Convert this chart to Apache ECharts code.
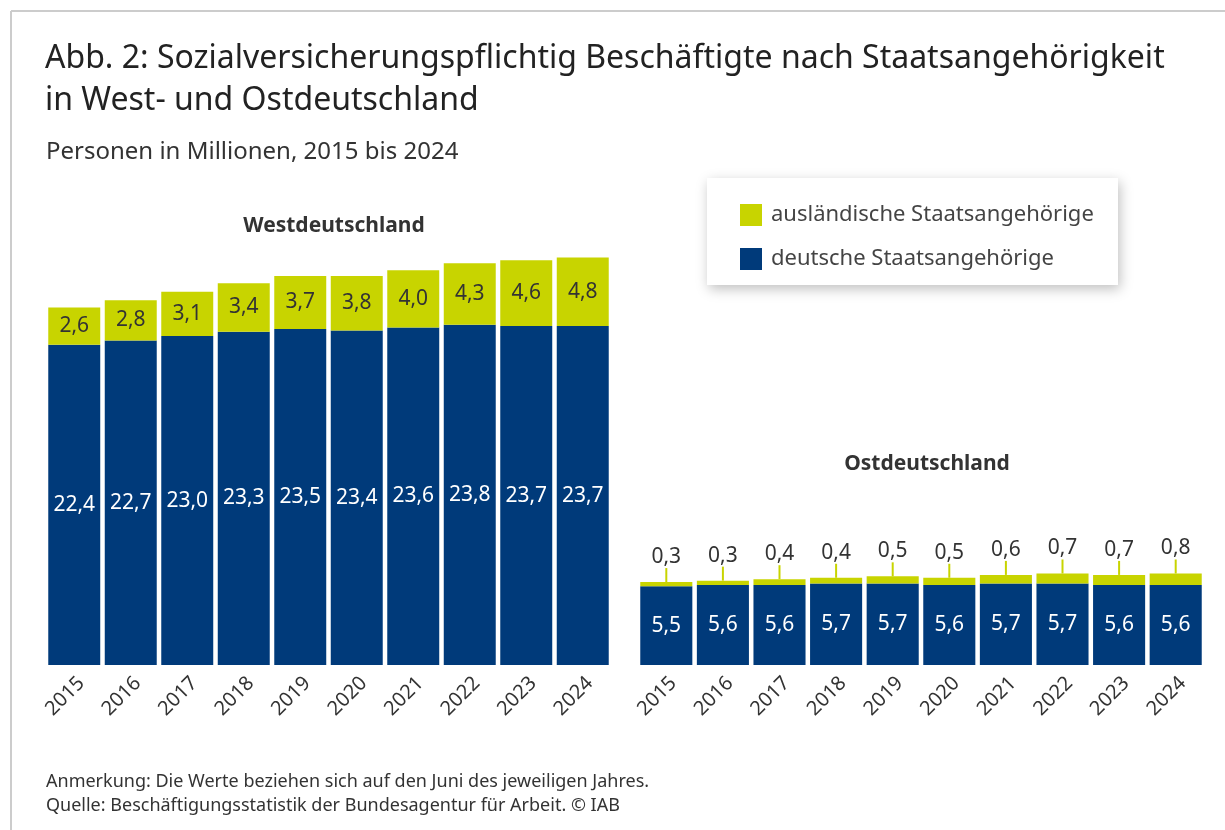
<!DOCTYPE html>
<html><head><meta charset="utf-8">
<script src="https://cdn.jsdelivr.net/npm/echarts@6/dist/echarts.min.js"></script>
<style>html,body{margin:0;padding:0;background:#fff}#c{width:1225px;height:830px}</style>
</head><body><div id="c"></div>
<script>
const years = ['2015','2016','2017','2018','2019','2020','2021','2022','2023','2024'];
const westGerman  = [22.4,22.7,23.0,23.3,23.5,23.4,23.6,23.8,23.7,23.7];
const westForeign = [2.6,2.8,3.1,3.4,3.7,3.8,4.0,4.3,4.6,4.8];
const eastGerman  = [5.5,5.6,5.6,5.7,5.7,5.6,5.7,5.7,5.6,5.6];
const eastForeign = [0.3,0.3,0.4,0.4,0.5,0.5,0.6,0.7,0.7,0.8];
const nameForeign = 'ausländische Staatsangehörige';
const nameGerman = 'deutsche Staatsangehörige';

const FONT = 'Noto Sans';
const BLUE = '#003a7a';
const LIME = '#c8d400';
const fmt = v => v.toFixed(1).replace('.', ',');

const chart = echarts.init(document.getElementById('c'));
const xAxisBase = (gi) => ({
  type: 'category', gridIndex: gi, data: years,
  axisLine: {show: false}, axisTick: {show: false},
  axisLabel: {rotate: 45, fontSize: 20, color: '#333', fontFamily: FONT, margin: 8, verticalAlign: 'top'}
});
const yAxisBase = (gi) => ({type: 'value', gridIndex: gi, min: 0, max: 30, show: false});

chart.setOption({
  backgroundColor: '#fff',
  textStyle: {fontFamily: FONT},
  animation: false,
  title: [
    {text: 'Abb. 2: Sozialversicherungspflichtig Beschäftigte nach Staatsangehörigkeit\nin West- und Ostdeutschland',
     left: 40, top: 33, textStyle: {fontSize: 32, fontWeight: 'normal', color: '#222', lineHeight: 42, fontFamily: FONT}},
    {text: 'Personen in Millionen, 2015 bis 2024', left: 41, top: 135,
     textStyle: {fontSize: 24, fontWeight: 'normal', color: '#333', fontFamily: FONT}},
    {text: 'Westdeutschland', left: 329, top: 211, textAlign: 'center',
     textStyle: {fontSize: 21, fontWeight: 'bold', color: '#333', fontFamily: FONT}},
    {text: 'Ostdeutschland', left: 922, top: 449, textAlign: 'center',
     textStyle: {fontSize: 21, fontWeight: 'bold', color: '#333', fontFamily: FONT}},
    {text: 'Anmerkung: Die Werte beziehen sich auf den Juni des jeweiligen Jahres.\nQuelle: Beschäftigungsstatistik der Bundesagentur für Arbeit. © IAB',
     left: 41, top: 765, textStyle: {fontSize: 18, fontWeight: 'normal', color: '#333', lineHeight: 24, fontFamily: FONT}}
  ],
  graphic: [
    {type: 'line', shape: {x1: 11, y1: 11, x2: 1225, y2: 11}, style: {stroke: '#cccccc', lineWidth: 2}},
    {type: 'line', shape: {x1: 11, y1: 11, x2: 11, y2: 830}, style: {stroke: '#cccccc', lineWidth: 2}},
    {type: 'rect', shape: {x: 707, y: 178, width: 411, height: 107}, z: -1,
     style: {fill: '#fff', shadowBlur: 12, shadowColor: 'rgba(0,0,0,0.25)', shadowOffsetX: 2, shadowOffsetY: 4}}
  ],
  legend: {
    left: 735, top: 199, orient: 'vertical', itemWidth: 22, itemHeight: 22, itemGap: 22,
    icon: 'rect', data: [nameForeign, nameGerman],
    textStyle: {fontSize: 22, color: '#444', fontFamily: FONT, padding: [0, 0, 0, 4]},
    selectedMode: false
  },
  grid: [
    {left: 46, width: 565, top: 236, bottom: 165},
    {left: 638, width: 566, top: 236, bottom: 165}
  ],
  xAxis: [xAxisBase(0), xAxisBase(1)],
  yAxis: [yAxisBase(0), yAxisBase(1)],
  series: [
    {name: nameGerman, type: 'bar', stack: 'w', xAxisIndex: 0, yAxisIndex: 0, data: westGerman,
     barCategoryGap: '8%', itemStyle: {color: BLUE},
     label: {show: true, position: 'inside', color: '#fff', fontSize: 21, fontFamily: FONT, formatter: p => fmt(p.value)}},
    {name: nameForeign, type: 'bar', stack: 'w', xAxisIndex: 0, yAxisIndex: 0, data: westForeign,
     barCategoryGap: '8%', itemStyle: {color: LIME},
     label: {show: true, position: 'inside', color: '#333', fontSize: 21, fontFamily: FONT, formatter: p => fmt(p.value)}},
    {name: nameGerman, type: 'bar', stack: 'e', xAxisIndex: 1, yAxisIndex: 1, data: eastGerman,
     barCategoryGap: '8%', itemStyle: {color: BLUE},
     label: {show: true, position: 'inside', color: '#fff', fontSize: 21, fontFamily: FONT, formatter: p => fmt(p.value)}},
    {name: nameForeign, type: 'bar', stack: 'e', xAxisIndex: 1, yAxisIndex: 1, data: eastForeign,
     barCategoryGap: '8%', itemStyle: {color: LIME},
     label: {show: true, position: 'top', distance: 0, formatter: p => '{v|' + fmt(p.value) + '}\n{l|}',
       rich: {v: {fontSize: 21, color: '#333', fontFamily: FONT, lineHeight: 22, align: 'center'},
              l: {width: 2, height: 14, backgroundColor: LIME, align: 'center'}}}}
  ]
});
</script></body></html>
